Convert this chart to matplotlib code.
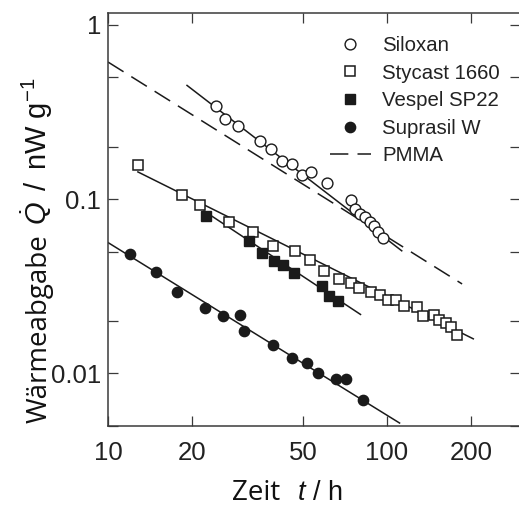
import matplotlib
matplotlib.use("Agg")
import matplotlib.pyplot as plt
from matplotlib.ticker import FixedLocator, FixedFormatter, NullFormatter, NullLocator

# ---------------- data ----------------
siloxan_t = [24.4, 26.3, 29.2, 35.1, 38.4, 42.0, 45.6, 49.6, 53.4, 60.9,
             74.3, 76.8, 80.0, 83.4, 86.9, 89.8, 92.8, 96.8]
siloxan_q = [0.343, 0.287, 0.263, 0.216, 0.193, 0.166, 0.159, 0.138, 0.142, 0.124,
             0.099, 0.0877, 0.0821, 0.0785, 0.0735, 0.0698, 0.0650, 0.0595]

stycast_t = [12.8, 18.4, 21.4, 27.2, 33.0, 39.1, 46.8, 53.0, 59.7, 67.6,
             74.3, 79.4, 87.4, 94.6, 101.3, 108.0, 114.8, 128.4, 134.6, 147.8,
             153.2, 162.5, 169.9, 177.8]
stycast_q = [0.1566, 0.1054, 0.0920, 0.0738, 0.0645, 0.0540, 0.0505, 0.0448, 0.0388, 0.0350,
             0.0329, 0.0307, 0.0294, 0.0282, 0.0263, 0.0263, 0.0244, 0.0240, 0.0214, 0.0216,
             0.0202, 0.0194, 0.0185, 0.0167]

vespel_t = [22.45, 32.1, 35.56, 39.36, 42.5, 46.3, 58.3, 61.9, 67.0]
vespel_q = [0.0796, 0.0572, 0.0490, 0.0440, 0.0419, 0.0377, 0.0317, 0.0279, 0.0259]

suprasil_t = [12.0, 14.86, 17.7, 22.27, 25.9, 29.78, 30.73, 38.94, 45.73, 51.55,
              56.83, 65.64, 71.4, 82.0]
suprasil_q = [0.0484, 0.0380, 0.0295, 0.0237, 0.0213, 0.0216, 0.0175, 0.01457, 0.01227, 0.01146,
              0.01007, 0.00935, 0.00935, 0.00708]

# fitted power-law lines (end points)
siloxan_fit_t = [19.2, 113.0]
siloxan_fit_q = [0.448, 0.0505]
stycast_fit_t = [12.8, 204.0]
stycast_fit_q = [0.143, 0.0158]
vespel_fit_t = [22.1, 80.4]
vespel_fit_q = [0.0854, 0.0218]
suprasil_fit_t = [10.0, 111.0]
suprasil_fit_q = [0.0563, 0.0052]
pmma_t = [10.0, 186.0]
pmma_q = [0.610, 0.0326]

labels = ["Siloxan", "Stycast 1660", "Vespel SP22", "Suprasil W", "PMMA"]
x_ticks = [10, 20, 50, 100, 200]
x_ticklabels = ["10", "20", "50", "100", "200"]
y_major = [0.01, 0.1, 1]
y_major_labels = ["0.01", "0.1", "1"]
y_minor = [0.005, 0.02, 0.05, 0.2, 0.5]

# ---------------- styling ----------------
plt.rcParams["mathtext.fontset"] = "custom"
plt.rcParams["mathtext.rm"] = "Liberation Sans"
plt.rcParams["mathtext.it"] = "Liberation Sans:italic"
plt.rcParams["font.family"] = ["Liberation Sans", "DejaVu Sans"]

W, H = 519, 507
fig = plt.figure(figsize=(W / 100, H / 100), dpi=100)
ax = fig.add_axes([108 / W, 81 / H, 412 / W, 413 / H])
ax.set_xscale("log")
ax.set_yscale("log")
ax.set_xlim(10, 300)
ax.set_ylim(0.005, 1.165)

ink = "#1a1a1a"
spine_c = "#3a3a3a"
lw_fit = 1.1

ax.plot(siloxan_fit_t, siloxan_fit_q, color=ink, lw=lw_fit, zorder=2)
ax.plot(stycast_fit_t, stycast_fit_q, color=ink, lw=lw_fit, zorder=2)
ax.plot(vespel_fit_t, vespel_fit_q, color=ink, lw=lw_fit, zorder=2)
ax.plot(suprasil_fit_t, suprasil_fit_q, color=ink, lw=lw_fit, zorder=2)
pm, = ax.plot(pmma_t, pmma_q, color=ink, lw=lw_fit, dashes=(12, 6), zorder=2,
              label=labels[4])

h1, = ax.plot(siloxan_t, siloxan_q, ls="none", marker="o", ms=7.8, mfc="white",
              mec=ink, mew=1.0, zorder=3, label=labels[0])
h2, = ax.plot(stycast_t, stycast_q, ls="none", marker="s", ms=6.8, mfc="white",
              mec=ink, mew=1.1, zorder=3, label=labels[1])
h3, = ax.plot(vespel_t, vespel_q, ls="none", marker="s", ms=6.8, mfc=ink,
              mec=ink, mew=1.0, zorder=3, label=labels[2])
h4, = ax.plot(suprasil_t, suprasil_q, ls="none", marker="o", ms=7.4, mfc=ink,
              mec=ink, mew=1.0, zorder=3, label=labels[3])

# ticks
ax.xaxis.set_major_locator(FixedLocator(x_ticks))
ax.xaxis.set_major_formatter(FixedFormatter(x_ticklabels))
ax.xaxis.set_minor_locator(NullLocator())
ax.yaxis.set_major_locator(FixedLocator(y_major))
ax.yaxis.set_major_formatter(FixedFormatter(y_major_labels))
ax.yaxis.set_minor_locator(FixedLocator(y_minor))
ax.yaxis.set_minor_formatter(NullFormatter())
ax.tick_params(which="both", direction="in", length=7, width=0.9, color=spine_c,
               top=True, right=True, labelsize=18.5, labelcolor="#222222")
ax.tick_params(axis="y", which="both", pad=5)
ax.tick_params(axis="x", which="both", pad=11)
for s in ax.spines.values():
    s.set_color(spine_c)
    s.set_linewidth(1.1)

# legend
leg = ax.legend(handles=[h1, h2, h3, h4, pm], loc="upper left",
                bbox_to_anchor=(330 / W, 1 - 36 / H), bbox_transform=fig.transFigure,
                frameon=False, fontsize=14.7, handlelength=2.0, handletextpad=0.55,
                labelspacing=0.42, borderpad=0, borderaxespad=0, numpoints=1)
for t in leg.get_texts():
    t.set_color("#222222")

# axis labels (mixed fonts)
fig.text(232 / W, 1 - 500 / H, "Zeit", family="Open Sans", fontsize=20,
         ha="left", va="baseline", color="#111111")
fig.text(297 / W, 1 - 500 / H, r"$t$ / h", fontsize=19.5,
         ha="left", va="baseline", color="#111111")
fig.text(47 / W, 1 - 423 / H, "Wärmeabgabe", family="Open Sans", fontsize=20,
         rotation=90, rotation_mode="anchor", ha="left", va="baseline", color="#111111")
fig.text(47 / W, 1 - 225 / H, r"$\dot{Q}\ \,/\ \,$nW g$^{-1}$", fontsize=21,
         rotation=90, rotation_mode="anchor", ha="left", va="baseline", color="#111111")

fig.savefig("out.png", dpi=100)
